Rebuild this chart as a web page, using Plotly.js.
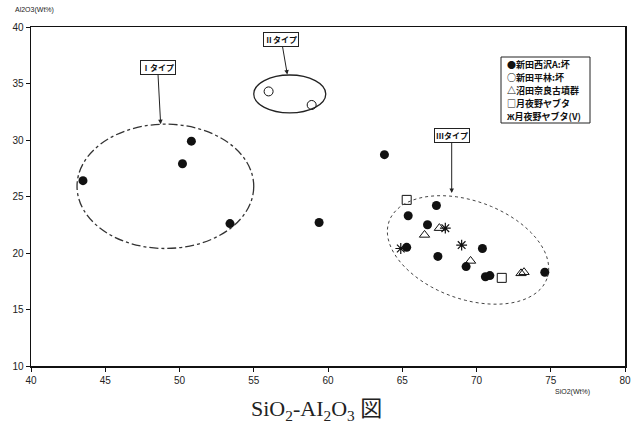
<!DOCTYPE html>
<html>
<head>
<meta charset="utf-8">
<script src="https://cdn.plot.ly/plotly-3.0.1.min.js"></script>
<style>html,body{margin:0;padding:0;background:#fff;}#chart{width:638px;height:423px;}</style>
</head>
<body>
<div id="chart"></div>
<script>
// ---- data (SiO2 wt%, Al2O3 wt%) ----
const seriesNames = ["新田西沢A:坏", "新田平林:坏", "沼田奈良古墳群", "月夜野ヤブタ", "月夜野ヤブタ(V)"];
const legendGlyphs = ["●", "○", "△", "□", "ж"];
const nishizawaX = [43.5, 50.8, 50.2, 53.4, 59.4, 63.8, 67.3, 65.4, 66.7, 65.3, 67.4, 70.4, 69.3, 70.6, 70.9, 74.6];
const nishizawaY = [26.4, 29.9, 27.9, 22.6, 22.7, 28.7, 24.2, 23.3, 22.5, 20.5, 19.7, 20.4, 18.8, 17.9, 18.0, 18.3];
const hirabayashiX = [56.0, 58.9];
const hirabayashiY = [34.3, 33.1];
const numataX = [66.5, 67.5, 69.6, 73.0, 73.2];
const numataY = [21.6, 22.2, 19.3, 18.2, 18.3];
const yabutaX = [65.3, 71.7];
const yabutaY = [24.7, 17.8];
const yabutaVX = [64.9, 67.9, 69.0];
const yabutaVY = [20.4, 22.2, 20.7];
const xTicks = [40, 45, 50, 55, 60, 65, 70, 75, 80];
const yTicks = [10, 15, 20, 25, 30, 35, 40];
const typeLabels = ["Ⅰタイプ", "Ⅱタイプ", "Ⅲタイプ"];

const W = 638, H = 423;
const M = {l: 31, r: 13, t: 27, b: 57};
const xRange = [40, 80], yRange = [10, 40];
const plotW = W - M.l - M.r, plotH = H - M.t - M.b;
const pxX = plotW / (xRange[1] - xRange[0]);
const pxY = plotH / (yRange[1] - yRange[0]);

// rotated ellipse path (center in data units, radii in pixels, angle in degrees)
function ellipsePath(cx, cy, a, b, deg) {
  const th = deg * Math.PI / 180;
  let d = "";
  for (let i = 0; i <= 72; i++) {
    const t = i / 72 * 2 * Math.PI;
    const px = a * Math.cos(t) * Math.cos(th) - b * Math.sin(t) * Math.sin(th);
    const py = a * Math.cos(t) * Math.sin(th) + b * Math.sin(t) * Math.cos(th);
    const x = cx + px / pxX, y = cy - py / pxY;
    d += (i === 0 ? "M" : "L") + x.toFixed(3) + "," + y.toFixed(3);
  }
  return d + "Z";
}

const traces = [
  {x: nishizawaX, y: nishizawaY, name: seriesNames[0], mode: "markers", type: "scatter",
   marker: {symbol: "circle", color: "#111", size: 9}},
  {x: hirabayashiX, y: hirabayashiY, name: seriesNames[1], mode: "markers", type: "scatter",
   marker: {symbol: "circle-open", color: "#111", size: 9, line: {width: 1}}},
  {x: numataX, y: numataY, name: seriesNames[2], mode: "markers", type: "scatter",
   marker: {symbol: "triangle-up-open", color: "#111", size: 9, line: {width: 1}}},
  {x: yabutaX, y: yabutaY, name: seriesNames[3], mode: "markers", type: "scatter",
   marker: {symbol: "square-open", color: "#111", size: 9, line: {width: 1}}},
  {x: yabutaVX, y: yabutaVY, name: seriesNames[4], mode: "markers", type: "scatter",
   marker: {symbol: "asterisk-open", color: "#111", size: 9, line: {width: 1.2}}}
];

const boxFont = {family: "Noto Sans CJK JP", size: 8, color: "#111", weight: 700};
const annotations = [
  {text: typeLabels[0], x: 48.73, y: 31.4, xref: "x", yref: "y", ax: -3, ay: -57,
   showarrow: true, arrowhead: 2, arrowsize: 0.9, arrowwidth: 1, arrowcolor: "#222",
   bordercolor: "#222", borderwidth: 1, borderpad: 1, bgcolor: "#fff", font: boxFont},
  {text: typeLabels[1], x: 57.26, y: 35.8, xref: "x", yref: "y", ax: -6, ay: -35,
   showarrow: true, arrowhead: 2, arrowsize: 0.9, arrowwidth: 1, arrowcolor: "#222",
   bordercolor: "#222", borderwidth: 1, borderpad: 1, bgcolor: "#fff", font: boxFont},
  {text: typeLabels[2], x: 68.33, y: 25.3, xref: "x", yref: "y", ax: 0, ay: -58,
   showarrow: true, arrowhead: 2, arrowsize: 0.9, arrowwidth: 1, arrowcolor: "#222",
   bordercolor: "#222", borderwidth: 1, borderpad: 1, bgcolor: "#fff", font: boxFont},
  {text: "Al2O3(Wt%)", xref: "paper", yref: "paper", x: -0.03, y: 1.05, xanchor: "left", yanchor: "middle",
   showarrow: false, font: {family: "Liberation Sans", size: 7, color: "#222"}},
  {text: "SiO2(Wt%)", xref: "paper", yref: "paper", x: 0.912, y: -0.077, xanchor: "center", yanchor: "middle",
   showarrow: false, font: {family: "Liberation Sans", size: 7, color: "#222"}},
  {text: "SiO<sub>2</sub>-AI<sub>2</sub>O<sub>3</sub> 図", xref: "paper", yref: "paper", x: 0.48, y: -0.13,
   xanchor: "center", yanchor: "middle", showarrow: false,
   font: {family: "Liberation Serif, Noto Sans CJK JP", size: 22, color: "#222"}}
];

// legend drawn as a bordered box with one text line per series
const legLeftPx = 505, legTopPx = 64.5, legStepPx = 13;
seriesNames.forEach((n, i) => {
  annotations.push({text: legendGlyphs[i] + n, xref: "paper", yref: "paper",
    x: (legLeftPx - M.l) / plotW, y: (H - M.b - (legTopPx + i * legStepPx)) / plotH,
    xanchor: "left", yanchor: "middle", align: "left", showarrow: false,
    font: {family: "Noto Sans CJK JP", size: 9, color: "#111", weight: 700}});
});

const shapes = [
  {type: "circle", xref: "x", yref: "y", x0: 43.1, x1: 55.0, y0: 20.4, y1: 31.4,
   line: {color: "#333", width: 1.3, dash: "dashdot"}},
  {type: "circle", xref: "x", yref: "y", x0: 55.0, x1: 59.85, y0: 32.4, y1: 35.75,
   line: {color: "#222", width: 1.3}},
  {type: "path", xref: "x", yref: "y", path: ellipsePath(69.43, 20.27, 84, 49, 20),
   line: {color: "#444", width: 1, dash: "dot"}},
  {type: "rect", xref: "paper", yref: "paper",
   x0: (501 - M.l) / plotW, x1: (590 - M.l) / plotW,
   y0: (H - M.b - 123) / plotH, y1: (H - M.b - 57) / plotH,
   line: {color: "#222", width: 1}, fillcolor: "rgba(0,0,0,0)"}
];

const axisCommon = {showgrid: false, zeroline: false, showline: true, linecolor: "#111", linewidth: 1.5,
  mirror: true, ticks: "outside", ticklen: 4, tickcolor: "#111", tickwidth: 1,
  tickfont: {family: "Liberation Sans", size: 10, color: "#222"}};

const layout = {
  width: W, height: H, margin: M,
  paper_bgcolor: "#fff", plot_bgcolor: "#fff",
  xaxis: Object.assign({}, axisCommon, {range: xRange, tickvals: xTicks, ticktext: xTicks.map(String)}),
  yaxis: Object.assign({}, axisCommon, {range: yRange, tickvals: yTicks, ticktext: yTicks.map(String)}),
  showlegend: false,
  shapes: shapes,
  annotations: annotations
};

Plotly.newPlot("chart", traces, layout, {displayModeBar: false, staticPlot: true});
</script>
</body>
</html>
